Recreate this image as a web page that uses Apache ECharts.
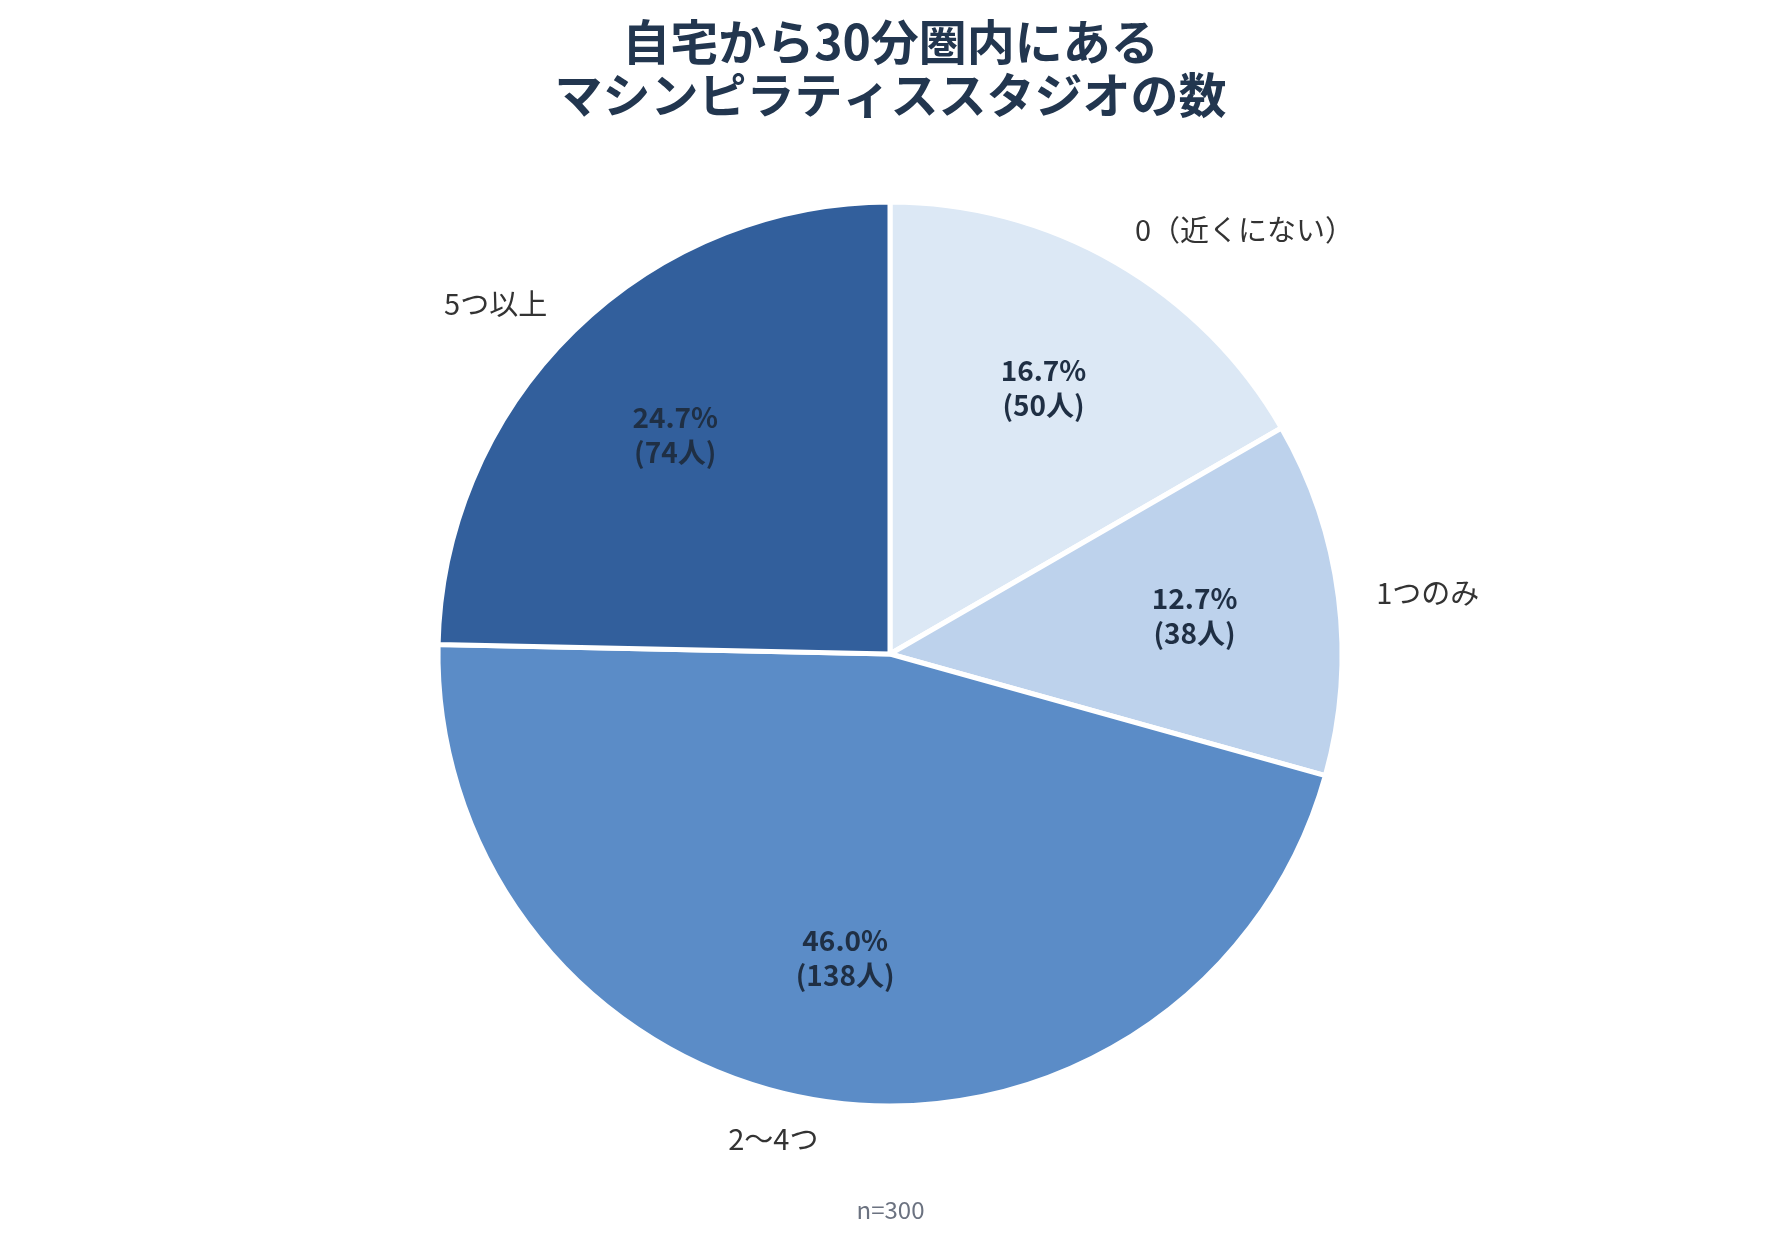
<!DOCTYPE html>
<html style="height: 100%; width: 100%">
  <head>
    <meta charset="utf-8" />
  </head>
  <body style="height: 100%; width: 100%; margin: 0">
    <div id="chart-panel" style="height: 100%; width: 100%"></div>
    <script
      type="text/javascript"
      src="https://fastly.jsdelivr.net/npm/echarts@6.0.0/dist/echarts.min.js"
    ></script>

    <script type="text/javascript">
      var dom = document.getElementById("chart-panel");
      var myChart = echarts.init(dom);
      var option;

      // 回答カテゴリ（12時の位置から時計回り）
      var categories = ["0（近くにない）", "1つのみ", "2〜4つ", "5つ以上"];
      // 人数
      var counts = [50, 38, 138, 74];
      var colors = ["#dce8f5", "#bdd2ec", "#5b8cc7", "#325f9c"];

      var total = counts.reduce(function (a, b) {
        return a + b;
      }, 0);

      var data = categories.map(function (name, i) {
        return {
          name: name,
          value: counts[i],
          itemStyle: { color: colors[i] },
        };
      });

      var fontFamily = "'Noto Sans CJK JP', 'Noto Sans', sans-serif";
      var center = [890, 654];
      var outerR = 452;

      option = {
        backgroundColor: "#ffffff",
        title: [
          {
            text: "自宅から30分圏内にある\nマシンピラティススタジオの数",
            left: "center",
            top: 10,
            textStyle: {
              fontFamily: fontFamily,
              fontSize: 48,
              fontWeight: "bold",
              lineHeight: 53,
              color: "#22364f",
            },
          },
          {
            text: "n=" + total,
            left: "center",
            top: 1193,
            textStyle: {
              fontFamily: fontFamily,
              fontSize: 24,
              fontWeight: "normal",
              color: "#6b7280",
            },
          },
        ],
        series: [
          {
            // 本体（外側ラベル）
            type: "pie",
            center: center,
            radius: [0, outerR],
            startAngle: 90,
            clockwise: true,
            avoidLabelOverlap: false,
            silent: true,
            itemStyle: {
              borderColor: "#ffffff",
              borderWidth: 5,
            },
            label: {
              show: true,
              position: "outside",
              fontFamily: fontFamily,
              fontSize: 29,
              color: "#333333",
              distanceToLabelLine: 0,
              formatter: "{b}",
            },
            labelLine: {
              show: false,
              length: 38,
              length2: 0,
            },
            emphasis: { disabled: true },
            data: data,
          },
          {
            // 内側ラベル用の透明なリング
            type: "pie",
            center: center,
            radius: [156, outerR],
            startAngle: 90,
            clockwise: true,
            avoidLabelOverlap: false,
            silent: true,
            itemStyle: {
              color: "rgba(0,0,0,0)",
              borderWidth: 0,
            },
            label: {
              show: true,
              position: "inside",
              fontFamily: fontFamily,
              fontSize: 28,
              fontWeight: "bold",
              lineHeight: 35,
              color: "#1f2f44",
              formatter: function (p) {
                return ((p.value / total) * 100).toFixed(1) + "%\n(" + p.value + "人)";
              },
            },
            labelLine: { show: false },
            emphasis: { disabled: true },
            data: counts.map(function (v, i) {
              return { name: categories[i], value: v };
            }),
          },
        ],
      };

      if (option && typeof option === "object") {
        myChart.setOption(option);
      }
    </script>
  </body>
</html>
